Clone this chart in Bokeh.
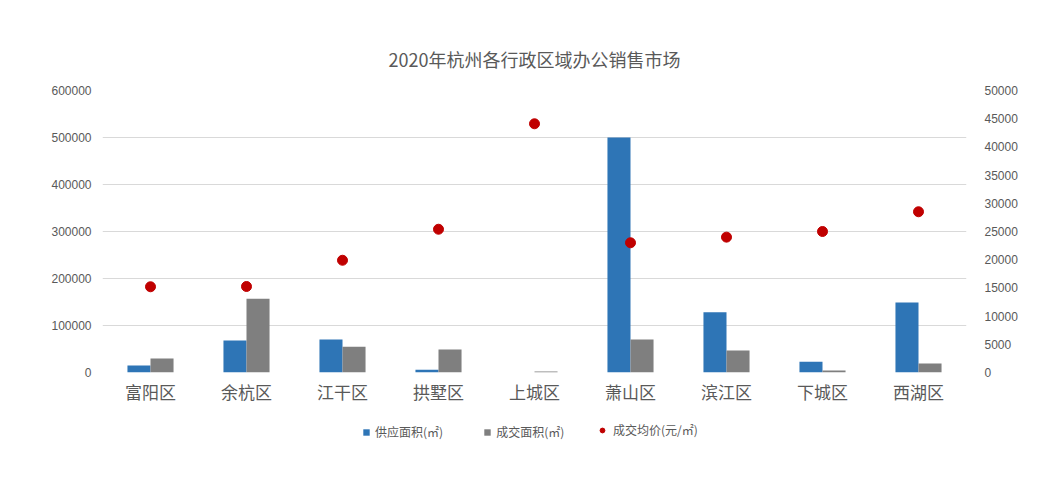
from bokeh.plotting import figure
from bokeh.layouts import column
from bokeh.models import (ColumnDataSource, Range1d, LinearAxis, FactorRange, Legend,
                          LegendItem, SingleIntervalTicker, BasicTickFormatter)
from bokeh.transform import dodge
from bokeh.embed import file_html
from bokeh.resources import INLINE

districts = ["富阳区", "余杭区", "江干区", "拱墅区", "上城区", "萧山区", "滨江区", "下城区", "西湖区"]
supply_area = [15000, 68000, 70000, 6000, 0, 500000, 128000, 23000, 149000]
deal_area = [30000, 157000, 55000, 49000, 2000, 70000, 47000, 4000, 19000]
avg_price = [15200, 15250, 19900, 25400, 44100, 23000, 24000, 25000, 28500]

title = "2020年杭州各行政区域办公销售市场"
labels = ["供应面积(㎡)", "成交面积(㎡)", "成交均价(元/㎡)"]

CJK = "Noto Sans CJK SC"
TXT = "#595959"
BLUE, GREY, RED = "#2E75B6", "#7F7F7F", "#C00000"

src = ColumnDataSource(dict(d=districts, s=supply_area, a=deal_area, p=avg_price))

p = figure(x_range=FactorRange(*districts, range_padding=0), y_range=Range1d(0, 600000),
           width=1041, height=416, output_backend="svg", toolbar_location=None,
           min_border_left=102, min_border_right=75, min_border_top=90, min_border_bottom=44)
p.extra_y_ranges = {"price": Range1d(0, 50000)}

p.vbar(x=dodge("d", -0.12, range=p.x_range), top="s", width=0.24, source=src,
       fill_color=BLUE, line_color=None)
p.vbar(x=dodge("d", 0.12, range=p.x_range), top="a", width=0.24, source=src,
       fill_color=GREY, line_color=None)
p.scatter(x="d", y="p", y_range_name="price", size=10, source=src,
          fill_color=RED, line_color=RED)

p.title.text = title
p.title.align = "center"
p.title.offset = 6
p.title.standoff = 38
p.title.text_font = CJK
p.title.text_font_size = "18px"
p.title.text_font_style = "normal"
p.title.text_color = TXT

p.outline_line_color = None
p.xgrid.grid_line_color = None
p.ygrid.grid_line_color = "#D9D9D9"

yl = p.yaxis[0]
yl.ticker = SingleIntervalTicker(interval=100000)
yl.formatter = BasicTickFormatter(use_scientific=False)
yl.axis_line_color = None
yl.major_tick_line_color = None
yl.minor_tick_line_color = None
yl.major_label_text_font = "Liberation Sans"
yl.major_label_text_font_size = "12px"
yl.major_label_text_color = TXT
yl.major_label_standoff = 5

yr = LinearAxis(y_range_name="price", ticker=SingleIntervalTicker(interval=5000),
                formatter=BasicTickFormatter(use_scientific=False))
yr.axis_line_color = None
yr.major_tick_line_color = None
yr.minor_tick_line_color = None
yr.major_label_text_font = "Liberation Sans"
yr.major_label_text_font_size = "12px"
yr.major_label_text_color = TXT
yr.major_label_standoff = 12
p.add_layout(yr, "right")

xa = p.xaxis[0]
xa.axis_line_color = None
xa.major_tick_line_color = None
xa.minor_tick_line_color = None
xa.major_label_text_font = CJK
xa.major_label_text_font_size = "17px"
xa.major_label_text_color = TXT
xa.major_label_standoff = 0

# legend strip (keys are parked outside the visible range)
lg = figure(width=1041, height=70, x_range=Range1d(0, 1), y_range=Range1d(0, 1),
            output_backend="svg", toolbar_location=None, min_border=0)
lg.axis.visible = False
lg.grid.visible = False
lg.outline_line_color = None
k1 = lg.vbar(x=[-5], top=[-5], bottom=[-6], width=0.1, fill_color=BLUE, line_color=None)
k2 = lg.vbar(x=[-5], top=[-5], bottom=[-6], width=0.1, fill_color=GREY, line_color=None)
k3 = lg.scatter(x=[-5], y=[-5], size=10, fill_color=RED, line_color=RED)

common = dict(orientation="horizontal", label_text_font=CJK, label_text_font_size="12px",
              label_text_color=TXT, spacing=40, label_standoff=5,
              border_line_color=None, background_fill_alpha=0, padding=4)
legA = Legend(items=[LegendItem(label=labels[0], renderers=[k1]),
                     LegendItem(label=labels[1], renderers=[k2])],
              location=(260, 46), glyph_width=8, glyph_height=8, **common)
legB = Legend(items=[LegendItem(label=labels[2], renderers=[k3])],
              location=(494, 48), glyph_width=12, glyph_height=12, **common)
lg.add_layout(legA)
lg.add_layout(legB)

open("out.html", "w").write(file_html(column(p, lg, spacing=0), INLINE))
